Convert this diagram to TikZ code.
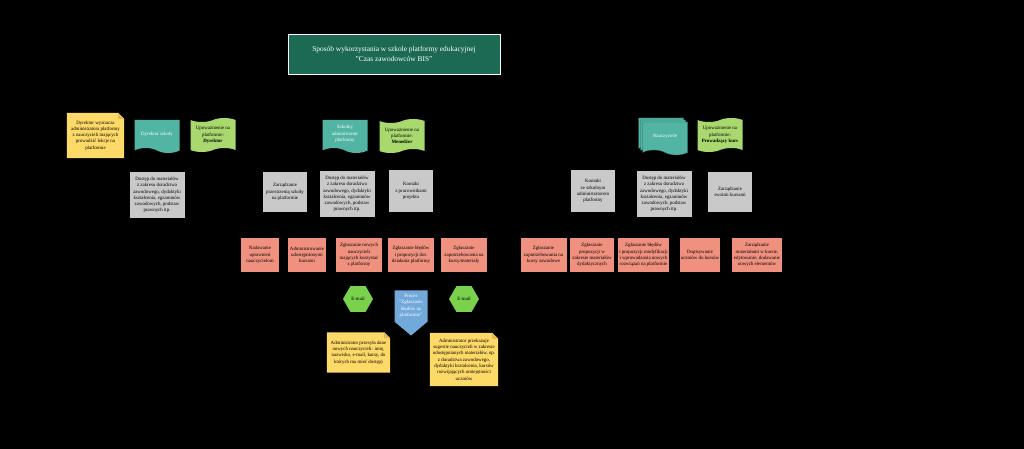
\documentclass[tikz,border=0pt]{standalone}
\usepackage{fontspec}
\setmainfont{Liberation Serif}
\usetikzlibrary{shapes.geometric,shapes.symbols,shadows,backgrounds,calc}

\definecolor{titlegreen}{HTML}{1C6A53}
\definecolor{docteal}{HTML}{52B5A3}
\definecolor{tapegreen}{HTML}{A8D86E}
\definecolor{noteyellow}{HTML}{FDD968}
\definecolor{notefold}{HTML}{E2BC4E}
\definecolor{boxgray}{HTML}{C9C9C9}
\definecolor{boxred}{HTML}{F0907F}
\definecolor{hexgreen}{HTML}{7AD14C}
\definecolor{procblue}{HTML}{72A9DB}

\begin{document}
\begin{tikzpicture}[x=1pt,y=-1pt,
  every node/.style={font=\fontsize{4.9}{6.3}\selectfont,align=center,inner sep=1pt},
  graybox/.style={rectangle,fill=boxgray,minimum width=55,minimum height=46},
  redbox/.style={rectangle,fill=boxred,minimum width=46,minimum height=34},
  notebox/.style={rectangle,minimum width=63,minimum height=40},
  docbox/.style={tape,tape bend top=none,tape bend bottom=out and in,tape bend height=5pt,
    fill=docteal,text=white,minimum width=45,minimum height=33},
  tapebox/.style={tape,tape bend height=4pt,fill=tapegreen,minimum width=45,minimum height=34},
  hexbox/.style={regular polygon,regular polygon sides=6,
    fill=hexgreen,minimum size=30,inner sep=0pt},
  offpage/.style={signal,signal to=south,signal pointer angle=100,fill=procblue,text=white,
    minimum width=33,minimum height=42}]
\begin{scope}[on background layer]
\fill[black] (0,0) rectangle (1024,449);
\end{scope}
\useasboundingbox (0,0) rectangle (1024,449);

% title
\node[fill=titlegreen,draw=white!75,line width=0.6pt,text=white,minimum width=212,minimum height=40,
  font=\fontsize{7.4}{10.5}\selectfont] (title) at (394,54)
  {Sposób wykorzystania w szkole platformy edukacyjnej\\"Czas zawodowców BIS"};

% Dyrektor
\node[notebox,minimum width=57,minimum height=45] (dyrnote) at (95.5,135.5)
  {Dyrektor wyznacza\\administratora platformy\\z nauczycieli mających\\prowadzić lekcje na\\platformie};
\node[docbox] (dyr) at (157,134) {Dyrektor szkoły};
\node[tapebox] (dyrrole) at (213,135) {Upoważnienie na\\platformie:\\\textbf{Dyrektor}};
\node[graybox] (dyrmat) at (157,195) {Dostęp do materiałów\\z zakresu doradztwa\\zawodowego, dydaktyki\\kształcenia, egzaminów\\zawodowych, podstaw\\prawnych itp.};

% Szkolny administrator
\node[docbox] (adm) at (345,134) {Szkolny\\administrator\\platformy};
\node[tapebox] (admrole) at (402,136) {Upoważnienie na\\platformie:\\\textbf{Menedżer}};
\node[graybox,minimum width=44,minimum height=40] (admspace) at (285,192) {Zarządzanie\\przestrzenią szkoły\\na platformie};
\node[graybox] (admmat) at (347,194) {Dostęp do materiałów\\z zakresu doradztwa\\zawodowego, dydaktyki\\kształcenia, egzaminów\\zawodowych, podstaw\\prawnych itp.};
\node[graybox,minimum width=44,minimum height=42] (admcontact) at (411,191) {Kontakt\\z pracownikami\\projektu};

\node[redbox,minimum width=38] (r1) at (260,255) {Nadawanie\\uprawnień\\nauczycielom};
\node[redbox,minimum width=38] (r2) at (307,255) {Administrowanie\\udostępnionymi\\kursami};
\node[redbox] (r3) at (359,255) {Zgłaszanie nowych\\nauczycieli\\mających korzystać\\z platformy};
\node[redbox] (r4) at (411,255) {Zgłaszanie błędów\\i propozycji dot.\\działania platformy};
\node[redbox] (r5) at (464,255) {Zgłaszanie\\zapotrzebowania na\\kursy/materiały};

\node[hexbox] (mail1) at (358,299) {E-mail};
\node[offpage] (proc) at (411,306) {Proces\\"Zgłaszanie\\błędów na\\platformie"};
\node[hexbox] (mail2) at (464,299) {E-mail};

\node[notebox,minimum width=63,minimum height=40] (mailnote) at (358.5,352.5)
  {Administrator przesyła dane\\nowych nauczycieli: imię,\\nazwisko, e-mail, kursy, do\\których ma mieć dostęp)};
\node[notebox,minimum width=68,minimum height=53] (sugnote) at (464,359.5)
  {Administrator przekazuje\\sugestie nauczycieli w zakresie\\udostępnianych materiałów, np.\\z doradztwa zawodowego,\\dydaktyki kształcenia, kursów\\rozwijających umiejętności\\uczniów};

% Nauczyciele
\node[docbox,draw=docteal!55!black,line width=0.3pt,
  double copy shadow={shadow xshift=-2pt,shadow yshift=2pt}] (naucz) at (665,136) {Nauczyciele};
\node[tapebox] (nauczrole) at (720,135) {Upoważnienie na\\platformie:\\\textbf{Prowadzący kurs}};
\node[graybox,minimum width=44,minimum height=42] (nauczcontact) at (593,191) {Kontakt\\ze szkolnym\\administratorem\\platformy};
\node[graybox] (nauczmat) at (664,194) {Dostęp do materiałów\\z zakresu doradztwa\\zawodowego, dydaktyki\\kształcenia, egzaminów\\zawodowych, podstaw\\prawnych itp.};
\node[graybox,minimum width=44,minimum height=40] (nauczcourse) at (730,192) {Zarządzanie\\swoimi kursami};

\node[redbox] (n1) at (543.5,255) {Zgłaszanie\\zapotrzebowania na\\kursy zawodowe};
\node[redbox,minimum width=44] (n2) at (592,255) {Zgłaszanie\\propozycji w\\zakresie materiałów\\dydaktycznych};
\node[redbox,minimum width=49] (n3) at (643.5,255) {Zgłaszanie błędów\\i propozycji modyfikacji\\i wprowadzania nowych\\rozwiązań na platformie};
\node[redbox,minimum width=38] (n4) at (700,255) {Dopisywanie\\uczniów do kursów};
\node[redbox,minimum width=50] (n5) at (757,255) {Zarządzanie\\materiałami w kursie,\\edytowanie, dodawanie\\nowych elementów};

% note paper behind the texts
\begin{scope}[on background layer]
\foreach \n in {dyrnote,mailnote,sugnote} {
  \fill[noteyellow] (\n.north west) -- ($(\n.north east)+(-6pt,0pt)$) -- ($(\n.north east)+(0pt,-6pt)$)
    -- (\n.south east) -- (\n.south west) -- cycle;
  \fill[notefold] ($(\n.north east)+(-6pt,0pt)$) -- ($(\n.north east)+(-6pt,-6pt)$) -- ($(\n.north east)+(0pt,-6pt)$) -- cycle;
}
\end{scope}
\end{tikzpicture}
\end{document}
